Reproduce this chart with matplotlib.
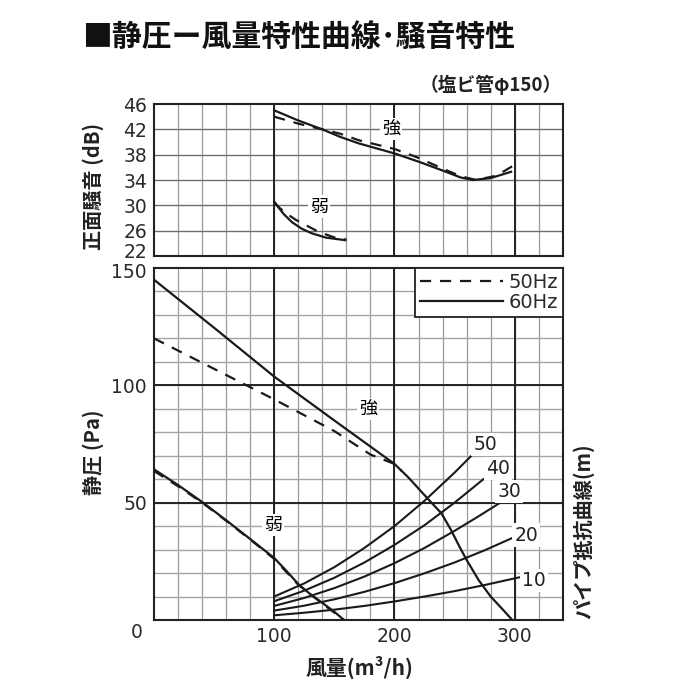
import numpy as np
import matplotlib
matplotlib.use("Agg")
import matplotlib.pyplot as plt
import matplotlib.transforms as mtransforms

plt.rcParams['font.family'] = ['Noto Sans CJK JP', 'DejaVu Sans']

# ---------------------------------------------------------------------------
# Data
# ---------------------------------------------------------------------------
# noise (dB), strong setting
noise_hi_60_x = [100, 120, 140, 155, 170, 200, 220, 240, 255, 265, 280, 297]
noise_hi_60_y = [45.0, 43.4, 42.0, 40.8, 39.8, 38.2, 36.9, 35.5, 34.4, 34.0, 34.3, 35.3]
noise_hi_50_x = [100, 120, 140, 155, 170, 200, 220, 240, 255, 268, 285, 300]
noise_hi_50_y = [44.0, 42.9, 42.0, 41.3, 40.3, 38.9, 37.5, 35.8, 34.6, 34.0, 34.7, 36.4]
# noise (dB), weak setting
noise_lo_60_x = [100, 103, 108, 115, 123, 131, 143, 159]
noise_lo_60_y = [30.6, 29.8, 28.6, 27.3, 26.3, 25.6, 24.9, 24.5]
noise_lo_50_x = [100, 105, 111, 118, 125, 137, 152, 160]
noise_lo_50_y = [30.4, 29.5, 28.6, 27.7, 27.0, 25.8, 24.8, 24.6]

# static pressure (Pa), strong setting
press_hi_60_x = [0, 50, 100, 150, 200, 212, 220, 230, 239, 247, 254, 260, 270, 280, 290, 298]
press_hi_60_y = [145, 124.5, 103.7, 85, 66.5, 60.5, 56, 50.4, 45.5, 38.4, 31.3, 25.6, 17, 10, 4.5, 0]
press_hi_50_x = [0, 50, 100, 150, 180, 200, 206]
press_hi_50_y = [120, 107, 94, 80.5, 70.5, 66.5, 63.5]
# static pressure (Pa), weak setting
press_lo_60_x = [0, 20, 40, 60, 80, 100, 110, 120, 130, 140, 150, 158]
press_lo_60_y = [64.2, 57.5, 50.3, 42.5, 34.5, 26.4, 21, 15.3, 11, 7.3, 3.5, 0]
press_lo_50_x = [0, 20, 40, 60, 80, 100, 120, 140, 158]
press_lo_50_y = [63.5, 57, 50, 42.3, 34.3, 26, 15, 7, 0]

# pipe resistance curves (m of pipe)
pipe_lengths = ["50", "40", "30", "20", "10"]
pipe_x = [
    [100, 125, 150, 175, 200, 225, 250, 264],
    [100, 125, 150, 175, 200, 225, 250, 274],
    [100, 125, 150, 175, 200, 225, 250, 270, 288],
    [100, 125, 150, 175, 200, 225, 250, 275, 300],
    [100, 125, 150, 175, 200, 225, 250, 275, 305],
]
pipe_y = [
    [10, 15.6, 22.5, 30.7, 40, 50.8, 62.8, 70],
    [8, 12.5, 18, 24.5, 32, 40.4, 50, 60],
    [6, 9.4, 13.6, 18.5, 24.2, 30.7, 38, 44.2, 50],
    [4, 6.1, 8.8, 12, 15.7, 19.9, 24.5, 29.7, 35.4],
    [2, 3.1, 4.4, 6, 7.9, 10, 12.3, 14.9, 18.3],
]

noise_ticks = [22, 26, 30, 34, 38, 42, 46]
press_ticks = [0, 50, 100, 150]
flow_ticks = [100, 200, 300]

NUM_FONT = 'DejaVu Sans'
DASH = (0, (5, 4))
INK = '#1a1a1a'


def style_grid(ax, xminor, yminor, xmajor, ymajor, hcolor, hmajor_color):
    for x in xminor:
        ax.axvline(x, color='#9a9a9a', lw=0.9, zorder=0)
    for y in yminor:
        ax.axhline(y, color=hcolor, lw=1.0, zorder=0)
    for x in xmajor:
        ax.axvline(x, color='#222222', lw=1.4, zorder=0.5)
    for y in ymajor:
        ax.axhline(y, color=hmajor_color, lw=1.4, zorder=0.5)
    for sp in ax.spines.values():
        sp.set_linewidth(1.5)
        sp.set_color('#222222')
    ax.tick_params(length=0, pad=5, labelsize=13.5, colors='#2a2a2a')


def nudge(label, dy_px):
    label.set_transform(label.get_transform() +
                        mtransforms.ScaledTranslation(0, dy_px / 100.0, fig.dpi_scale_trans))


fig = plt.figure(figsize=(7, 7), dpi=100)
ax_n = fig.add_axes([0.22, 0.6343, 0.584, 0.2171])
ax_p = fig.add_axes([0.22, 0.1143, 0.584, 0.5029])

# ---------------- noise panel ----------------
ax_n.set_xlim(0, 340)
ax_n.set_ylim(22, 46)
style_grid(ax_n, range(20, 340, 20), noise_ticks[1:-1], flow_ticks, [], '#6e6e6e', '#6e6e6e')
ax_n.set_xticks([])
ax_n.set_yticks(noise_ticks)
ax_n.set_yticklabels([str(v) for v in noise_ticks], fontfamily=NUM_FONT)

ax_n.plot(noise_hi_60_x, noise_hi_60_y, color=INK, lw=1.6, zorder=3)
ax_n.plot(noise_hi_50_x, noise_hi_50_y, color=INK, lw=1.6, ls=DASH, zorder=3)
ax_n.plot(noise_lo_60_x, noise_lo_60_y, color=INK, lw=1.6, zorder=3)
ax_n.plot(noise_lo_50_x, noise_lo_50_y, color=INK, lw=1.6, ls=DASH, zorder=3)

lbl_box = dict(facecolor='white', edgecolor='none', pad=1.5)
ax_n.text(197, 42.1, "強", fontsize=13, ha='center', va='center', bbox=lbl_box, zorder=4)
ax_n.text(137, 29.8, "弱", fontsize=13, ha='center', va='center', bbox=lbl_box, zorder=4)

# ---------------- pressure panel ----------------
ax_p.set_xlim(0, 340)
ax_p.set_ylim(0, 150)
style_grid(ax_p, range(20, 340, 20), range(10, 150, 10), flow_ticks, [50, 100], '#a5a5a5', '#222222')
ax_p.set_xticks(flow_ticks)
ax_p.set_xticklabels([str(v) for v in flow_ticks], fontfamily=NUM_FONT)
ax_p.set_yticks(press_ticks[1:])
ax_p.set_yticklabels([str(v) for v in press_ticks[1:]], fontfamily=NUM_FONT)
ax_p.annotate("0", xy=(0, 0), xytext=(-17, -13), textcoords='offset pixels',
              ha='center', va='center', fontsize=13.5, color='#2a2a2a', fontfamily=NUM_FONT)

# keep the "22" and "150" labels at the panel joint apart
nudge(ax_n.get_yticklabels()[0], 5)
nudge(ax_p.get_yticklabels()[-1], -3)

for xs, ys in zip(pipe_x, pipe_y):
    ax_p.plot(xs, ys, color=INK, lw=1.5, zorder=2)

ax_p.plot(press_hi_60_x, press_hi_60_y, color=INK, lw=1.6, zorder=3, label='60Hz')
ax_p.plot(press_hi_50_x, press_hi_50_y, color=INK, lw=1.6, ls=DASH, zorder=3, label='50Hz')
ax_p.plot(press_lo_60_x, press_lo_60_y, color=INK, lw=1.6, zorder=3)
ax_p.plot(press_lo_50_x, press_lo_50_y, color=INK, lw=1.6, ls=DASH, zorder=3)

# pipe-length labels next to the curve ends
pipe_label_pos = [(275.5, 74.6), (286, 64.7), (295.6, 54.7), (309.4, 36.2), (316, 17)]
for (lx, ly), name in zip(pipe_label_pos, pipe_lengths):
    ax_p.text(lx, ly, name, fontsize=13.5, ha='center', va='center', color='#222222',
              fontfamily=NUM_FONT, bbox=lbl_box, zorder=4)

ax_p.text(178, 90, "強", fontsize=13, ha='center', va='center', bbox=lbl_box, zorder=4)
ax_p.text(99, 40.5, "弱", fontsize=13, ha='center', va='center', bbox=lbl_box, zorder=4)

handles, labels = ax_p.get_legend_handles_labels()
leg = ax_p.legend(handles[::-1], labels[::-1], loc='upper right', borderaxespad=0,
                  fancybox=False, framealpha=1, edgecolor='#222222',
                  handlelength=4.3, handletextpad=0.25, borderpad=0.25,
                  labelspacing=0.05, prop={'family': NUM_FONT, 'size': 14})
leg.get_frame().set_linewidth(1.3)
for t in leg.get_texts():
    t.set_color('#2a2a2a')

# ---------------- titles and axis labels ----------------
fig.text(0.117, 0.947, "■静圧ー風量特性曲線･騒音特性", fontsize=21.5, fontweight='bold',
         ha='left', va='center', color='#111111')
fig.text(0.803, 0.879, "（塩ビ管φ150）", fontsize=13.5, fontweight='bold',
         ha='right', va='center', color='#222222')
fig.text(0.133, 0.734, "正面騒音 (dB)", fontsize=14.5, fontweight='bold', rotation=90,
         ha='center', va='center', color='#222222')
fig.text(0.133, 0.354, "静圧 (Pa)", fontsize=14.5, fontweight='bold', rotation=90,
         ha='center', va='center', color='#222222')
fig.text(0.833, 0.241, "パイプ抵抗曲線(m)", fontsize=14.5, fontweight='bold', rotation=90,
         ha='center', va='center', color='#222222')
fig.text(0.514, 0.046, "風量(m³/h)", fontsize=15, fontweight='bold',
         ha='center', va='center', color='#222222')

fig.savefig("out.png", dpi=100, facecolor='white')
